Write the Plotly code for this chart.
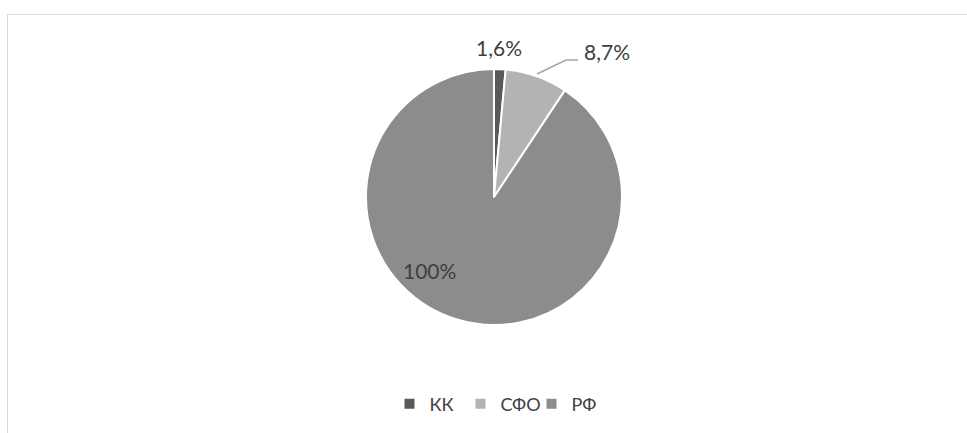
import plotly.graph_objects as go

# Shares by territory, percent
categories = ["КК", "СФО", "РФ"]
values = [1.6, 8.7, 100]
colors = ["#595959", "#b3b3b3", "#8c8c8c"]

W, H = 967, 433
FONT = "Lato, Carlito, Calibri, sans-serif"
TEXT_COLOR = "#404040"


def px(x):
    return x / W


def py(y):
    return 1 - y / H


def fmt(v):
    s = f"{v:g}".replace(".", ",")
    return s + "%"


fig = go.Figure(
    go.Pie(
        labels=categories,
        values=values,
        sort=False,
        direction="clockwise",
        rotation=0,
        textinfo="none",
        hoverinfo="label+value",
        marker=dict(colors=colors, line=dict(color="white", width=2)),
        domain=dict(x=[px(366), px(622)], y=[py(325), py(69)]),
        showlegend=True,
    )
)

# Data labels (positions in pixels of the page)
label_pos = [(499, 47), (607, 52), (429, 270)]
annotations = []
for v, (x, y) in zip(values, label_pos):
    annotations.append(
        dict(
            x=px(x), y=py(y), xref="paper", yref="paper",
            text=fmt(v), showarrow=False,
            font=dict(family=FONT, size=21, color=TEXT_COLOR),
            xanchor="center", yanchor="middle",
        )
    )

shapes = [
    # leader line for the СФО label
    dict(
        type="path", xref="paper", yref="paper",
        path=f"M {px(537)},{py(74)} L {px(566)},{py(60)} L {px(578)},{py(60)}",
        line=dict(color="#a6a6a6", width=1.5),
    ),
    # chart area frame
    dict(type="line", xref="paper", yref="paper",
         x0=px(7.5), y0=py(14.5), x1=1, y1=py(14.5),
         line=dict(color="#d9d9d9", width=1)),
    dict(type="line", xref="paper", yref="paper",
         x0=px(7.5), y0=py(14.5), x1=px(7.5), y1=0,
         line=dict(color="#d9d9d9", width=1)),
]

fig.update_layout(
    width=W, height=H,
    margin=dict(l=0, r=0, t=0, b=0),
    paper_bgcolor="white",
    plot_bgcolor="white",
    font=dict(family=FONT, size=18, color=TEXT_COLOR),
    legend=dict(
        orientation="h",
        x=px(496), xanchor="center",
        y=py(404), yanchor="middle",
        font=dict(family=FONT, size=18, color=TEXT_COLOR),
        itemwidth=30,
        entrywidth=26,
        entrywidthmode="pixels",
        traceorder="normal",
    ),
    annotations=annotations,
    shapes=shapes,
)

fig.write_html("out.html")
